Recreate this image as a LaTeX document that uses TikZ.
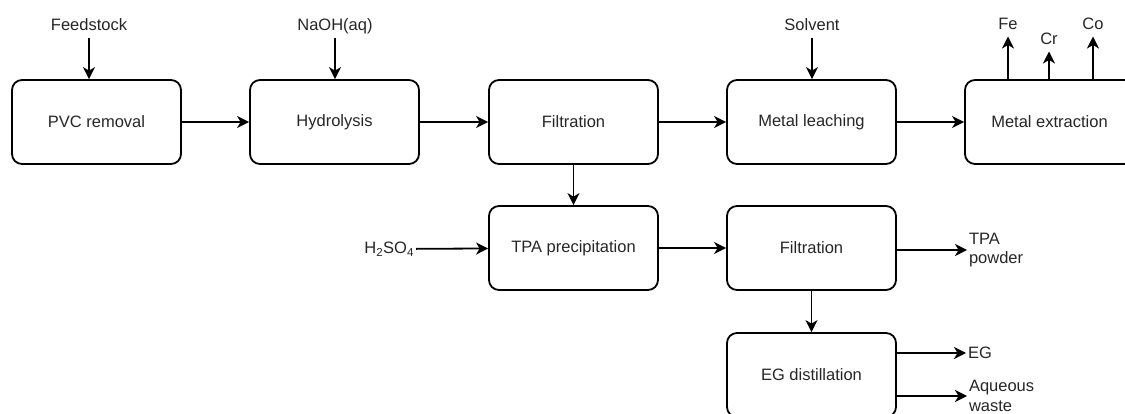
\documentclass[tikz,border=0pt]{standalone}
\usepackage{fontspec}
\setmainfont{Liberation Sans}
\usetikzlibrary{arrows.meta, positioning}

\tikzset{
  stage/.style={draw, rounded corners=10pt, line width=1.8pt, minimum width=169pt,
    minimum height=84pt, inner sep=0pt, text=black!85},
  lbl/.style={inner sep=0pt, outer sep=4pt, text height=12pt, text depth=3pt, text=black!85},
  side/.style={inner sep=0pt, outer sep=2pt, align=left, text=black!85},
  arr/.style={-{Stealth[length=12pt, width=12pt, inset=3.5pt]}, line width=1.8pt}
}

\begin{document}
\begin{tikzpicture}[x=1pt, y=-1pt, font=\fontsize{16.5}{19.5}\selectfont]
\useasboundingbox (0,0) rectangle (1125,414);
\clip (0,0) rectangle (1125,414);
% process units
\node[stage] (pvc)   at (96.5,122)  {PVC removal};
\node[stage] (hydro) at (334.5,122) {Hydrolysis};
\node[stage] (filtA) at (573.5,122) {Filtration};
\node[stage] (leach) at (811.5,122) {Metal leaching};
\node[stage] (extr)  at (1049.5,122) {Metal extraction};
\node[stage] (tpa)   at (573.5,248) {TPA precipitation};
\node[stage] (filtB) at (811.5,248) {Filtration};
\node[stage] (egd)   at (811.5,375) {EG distillation};
% feeds and products
\node[lbl] (feed)    at (89,26.5)  {Feedstock};
\node[lbl] (naoh)    at (335,26.5) {NaOH(aq)};
\node[lbl] (solv)    at (812,26.5) {Solvent};
\node[lbl] (fe)      at (1008,25)  {Fe};
\node[lbl] (cr)      at (1049,40)  {Cr};
\node[lbl] (co)      at (1093,25)  {Co};
\node[side, anchor=east] (acid) at (416,249) {H\textsubscript{2}SO\textsubscript{4}};
\node[side, anchor=west] (tpap) at (967,250) {TPA\\powder};
\node[side, anchor=west] (eg)   at (966,353) {EG};
\node[side, anchor=west] (aq)   at (967,396) {Aqueous\\waste};

\draw[arr] (feed.south) -- (feed.south |- pvc.north);
\draw[arr] (naoh.south) -- (naoh.south |- hydro.north);
\draw[arr] (solv.south) -- (solv.south |- leach.north);
\draw[arr] (pvc) -- (hydro);
\draw[arr] (hydro) -- (filtA);
\draw[arr] (filtA) -- (leach);
\draw[arr] (leach) -- (extr);
\foreach \m in {fe, cr, co}
  \draw[arr] (\m.south |- extr.north) -- (\m.south);
\draw[arr] (filtA) -- (tpa);
\draw[arr] (acid) -- (tpa);
\draw[arr] (tpa) -- (filtB);
\draw[arr] (filtB.east |- tpap.west) -- (tpap.west);
\draw[arr] (filtB) -- (egd);
\draw[arr] (egd.east |- eg.west) -- (eg.west);
\draw[arr] (egd.east |- aq.west) -- (aq.west);
\end{tikzpicture}
\end{document}
